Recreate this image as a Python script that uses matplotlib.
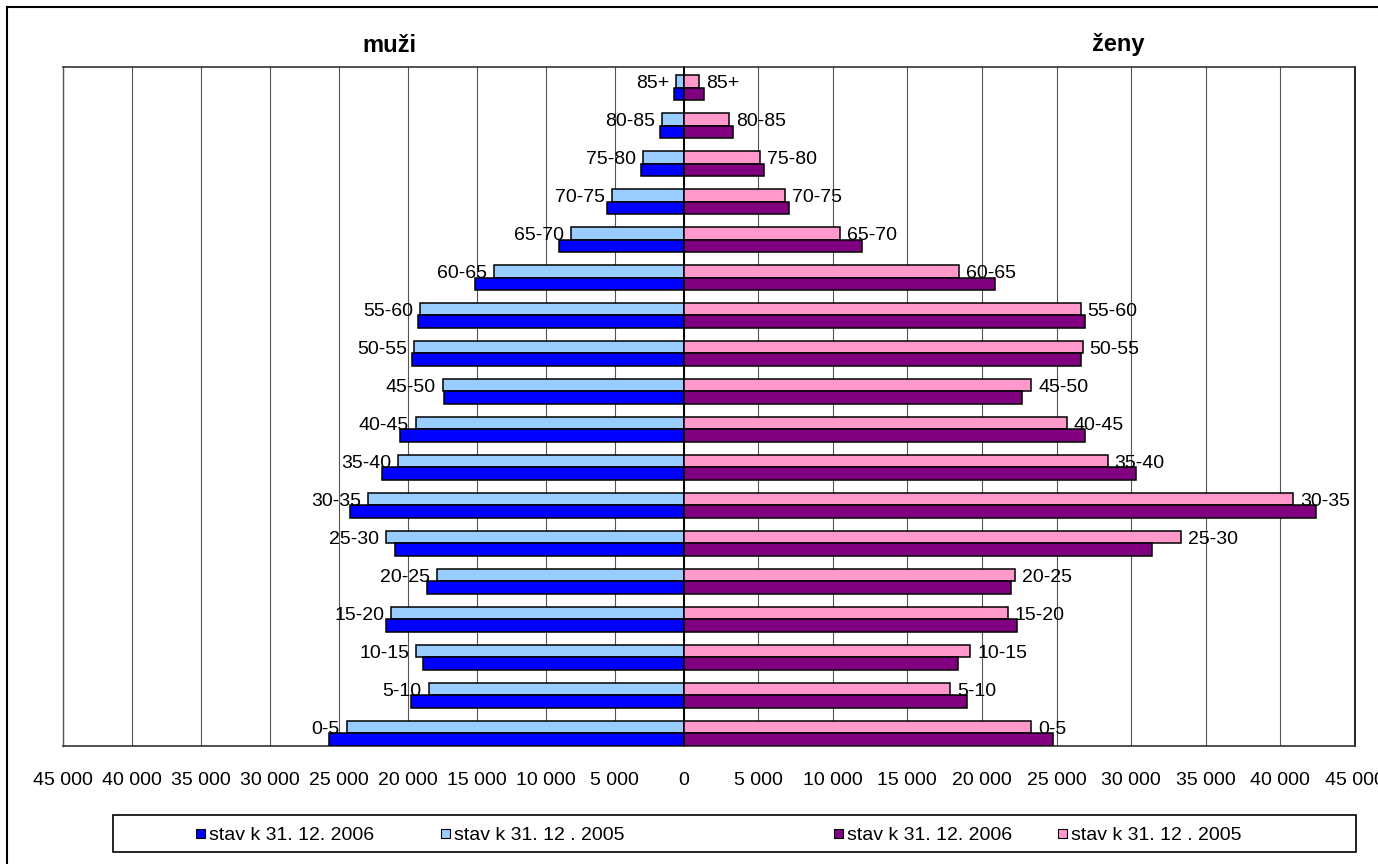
import numpy as np
import matplotlib
matplotlib.use("Agg")
import matplotlib.pyplot as plt
from matplotlib.patches import Rectangle
from matplotlib.lines import Line2D

plt.rcParams['font.family'] = ['Liberation Sans', 'DejaVu Sans']

# ---- data (0-5 at bottom ... 85+ at top) ----
ages = ['0-5', '5-10', '10-15', '15-20', '20-25', '25-30', '30-35', '35-40', '40-45',
        '45-50', '50-55', '55-60', '60-65', '65-70', '70-75', '75-80', '80-85', '85+']
men_2005 = [24430, 18480, 19400, 21210, 17850, 21570, 22860, 20680, 19420,
            17460, 19520, 19130, 13720, 8150, 5160, 2960, 1560, 540]
men_2006 = [25740, 19760, 18890, 21570, 18620, 20940, 24190, 21840, 20540,
            17340, 19670, 19280, 15120, 9020, 5570, 3100, 1700, 690]
women_2005 = [23280, 17880, 19220, 21740, 22190, 33340, 40840, 28430, 25670,
              23300, 26750, 26610, 18480, 10510, 6800, 5130, 3070, 1040]
women_2006 = [24740, 18990, 18390, 22320, 21960, 31410, 42400, 30340, 26880,
              22680, 26630, 26880, 20890, 11960, 7050, 5370, 3340, 1400]
ticks = list(range(0, 45001, 5000))
title_men = 'muži'
title_women = 'ženy'
legend_labels = ['stav k 31. 12. 2006', 'stav k 31. 12 . 2005',
                 'stav k 31. 12. 2006', 'stav k 31. 12 . 2005']

C_M06, C_M05 = '#0000FF', '#99CCFF'
C_W06, C_W05 = '#800080', '#FF99CC'

W, H = 1378, 864
fig = plt.figure(figsize=(W / 100, H / 100), dpi=100)
fig.patch.set_facecolor('white')

def fx(px):
    return px / W

def fy(py):
    return 1 - py / H

top, bot = 67, 746
axL = fig.add_axes([fx(63), fy(bot), (683.5 - 63) / W, (bot - top) / H])
axR = fig.add_axes([fx(683.5), fy(bot), (1355 - 683.5) / W, (bot - top) / H])

y = np.arange(len(ages))
h = 0.336
fs = 14

def fmt(v):
    return f"{v:,}".replace(',', ' ')

for ax, d05, d06, c05, c06 in [(axL, men_2005, men_2006, C_M05, C_M06),
                               (axR, women_2005, women_2006, C_W05, C_W06)]:
    ax.barh(y + h / 2, d05, height=h, color=c05, edgecolor='black', linewidth=1.1, zorder=3)
    ax.barh(y - h / 2, d06, height=h, color=c06, edgecolor='black', linewidth=1.1, zorder=3)
    ax.set_ylim(-0.33, 17.54)
    ax.set_yticks([])
    ax.set_xticks(ticks)
    ax.grid(axis='x', color='#555555', linewidth=0.8, zorder=0)
    ax.set_axisbelow(True)
    ax.tick_params(axis='x', length=0, pad=19, labelsize=fs)
    for s in ['top', 'bottom']:
        ax.spines[s].set_color('#333333')
        ax.spines[s].set_linewidth(1.2)

axL.set_xlim(45000, 0)
axR.set_xlim(0, 45000)
axL.set_xticklabels([fmt(t) for t in ticks])
axR.set_xticklabels([''] + [fmt(t) for t in ticks[1:]])
for lab in axR.get_xticklabels():
    lab.set_clip_on(False)

axL.spines['left'].set_color('#555555')
axL.spines['left'].set_linewidth(1.0)
axL.spines['right'].set_color('black')
axL.spines['right'].set_linewidth(1.3)
axR.spines['left'].set_color('black')
axR.spines['left'].set_linewidth(1.3)
axR.spines['right'].set_color('black')
axR.spines['right'].set_linewidth(1.2)

# category labels at end of 2005 bars
for i, v in enumerate(men_2005):
    axL.annotate(ages[i], xy=(v, y[i] + h / 2), xytext=(-5, -5.0),
                 textcoords='offset points', ha='right', va='baseline',
                 fontsize=fs, zorder=4)
for i, v in enumerate(women_2005):
    axR.annotate(ages[i], xy=(v, y[i] + h / 2), xytext=(5, -5.0),
                 textcoords='offset points', ha='left', va='baseline',
                 fontsize=fs, zorder=4)

# titles
fig.text(fx(389), fy(45), title_men, ha='center', va='center', fontsize=17, fontweight='bold')
fig.text(fx(1118), fy(45), title_women, ha='center', va='center', fontsize=17, fontweight='bold')

# legend box
fig.patches.append(Rectangle((fx(113), fy(852)), (1356 - 113) / W, (852 - 815) / H,
                             transform=fig.transFigure, fill=False,
                             edgecolor='black', linewidth=1.2))
leg_x = [196, 441, 834, 1058]
leg_c = [C_M06, C_M05, C_W06, C_W05]
for x0, c, lab in zip(leg_x, leg_c, legend_labels):
    fig.patches.append(Rectangle((fx(x0), fy(838)), 9 / W, 9 / H,
                                 transform=fig.transFigure, facecolor=c,
                                 edgecolor='black', linewidth=0.8))
    fig.text(fx(x0 + 13), fy(833.5), lab, ha='left', va='center_baseline', fontsize=fs)

# outer frame (left and top edges visible)
fig.lines.append(Line2D([fx(7), fx(7)], [fy(7), 0], transform=fig.transFigure,
                        color='black', linewidth=1.5))
fig.lines.append(Line2D([fx(7), 1], [fy(7), fy(7)], transform=fig.transFigure,
                        color='black', linewidth=1.5))

fig.savefig('out.png', dpi=100)
